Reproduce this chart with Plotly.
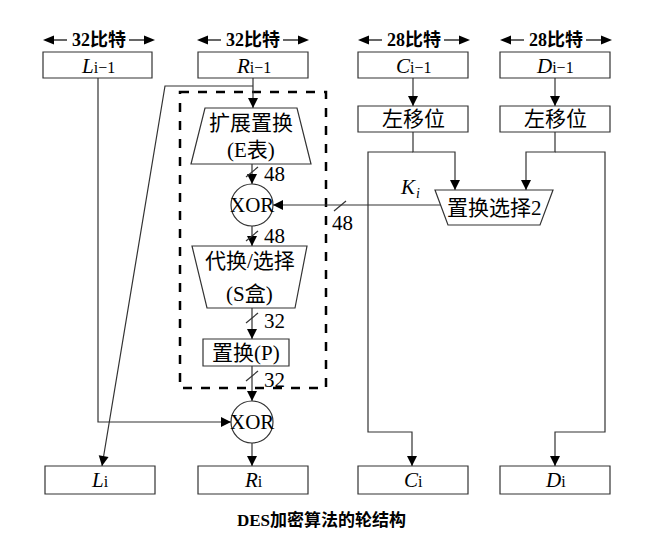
import math
import plotly.graph_objects as go

W, H = 656, 546
OFF = 8  # page body margin
FONT = "Liberation Serif, Noto Sans CJK SC"
LINE = "#333333"

# --- diagram content ---
header_text = ["32比特", "32比特", "28比特", "28比特"]
header_x = [99, 253, 414, 556]
header_half = [56, 56, 56, 56]

top_labels = ["L", "R", "C", "D"]
top_sub = "i−1"
top_boxes = [(43, 152), (198, 308), (358, 468), (500, 610)]

bottom_labels = ["L", "R", "C", "D"]
bottom_sub = "i"
bottom_boxes = [(45, 155), (198, 308), (358, 468), (500, 610)]

shift_label = "左移位"
shift_boxes = [(358, 468), (500, 610)]

# trapezoids: (top y, top x0, top x1, bottom y, bottom x0, bottom x1, text lines)
trapezoids = [
    (108, 205, 297, 164, 191, 311, ["扩展置换", "(E表)"]),
    (246, 192, 307, 308, 207, 295, ["代换/选择", "(S盒)"]),
    (190, 435, 553, 225, 448, 540, ["置换选择2"]),
]
p_box = (203, 289, 339, 366, "置换(P)")

xor_nodes = [(252, 205, 21), (252, 422, 21)]

# polylines, arrow at the last point
arrows = [
    [(413, 78), (413, 106)],
    [(555, 78), (555, 106)],
    [(413, 132), (413, 152), (455, 152), (455, 190)],
    [(413, 152), (368, 152), (368, 432), (412, 432), (412, 466)],
    [(555, 132), (555, 152), (526, 152), (526, 190)],
    [(555, 152), (605, 152), (605, 432), (555, 432), (555, 466)],
    [(253, 78), (253, 108)],
    [(253, 86), (165, 86), (102, 466)],
    [(252, 164), (252, 184)],
    [(252, 226), (252, 246)],
    [(252, 308), (252, 339)],
    [(252, 366), (252, 401)],
    [(98, 78), (98, 422), (231, 422)],
    [(252, 443), (252, 466)],
    [(441, 205), (273, 205)],
]

bus_marks = [(252, 172), (252, 236), (252, 318), (252, 376), (340, 206)]
bus_widths = ["48", "48", "32", "32", "48"]
bus_label_pos = [(274, 174), (274, 236), (274, 321), (274, 380), (342, 223)]

key_label = ("K", "i")
caption = "<b>DES加密算法的轮结构</b>"

fig = go.Figure()
shapes, annots = [], []


def text(x, y, s, size=20, **kw):
    annots.append(dict(x=x, y=y, text=s, showarrow=False,
                       font=dict(family=FONT, size=size, color="black"), **kw))


def head(tip, frm, length=10, half=5):
    dx, dy = tip[0] - frm[0], tip[1] - frm[1]
    n = math.hypot(dx, dy)
    ux, uy = dx / n, dy / n
    bx, by = tip[0] - ux * length, tip[1] - uy * length
    px, py = -uy * half, ux * half
    shapes.append(dict(type="path", line=dict(width=0), fillcolor="black",
                       path=f"M{tip[0]},{tip[1]} L{bx + px},{by + py} L{bx - px},{by - py} Z"))


def rect(x0, x1, y0, y1):
    shapes.append(dict(type="rect", x0=x0, x1=x1, y0=y0, y1=y1,
                       line=dict(color=LINE, width=1.2), fillcolor="white"))


def var_label(v, sub):
    return f"<i>{v}</i><span style='font-size:16px'>{sub}</span>"


# dashed round-function box
shapes.append(dict(type="rect", x0=180, x1=326, y0=92, y1=388,
                   line=dict(color="black", width=2.5, dash="dash")))

# connecting lines
for pts in arrows:
    path = "M" + " L".join(f"{x},{y}" for x, y in pts)
    shapes.append(dict(type="path", path=path, line=dict(color=LINE, width=1.2)))
    head(pts[-1], pts[-2])

# headers with double arrows
for cx, hw, s in zip(header_x, header_half, header_text):
    y = 40
    shapes.append(dict(type="line", x0=cx - hw + 8, x1=cx - 32, y0=y, y1=y, line=dict(color="black", width=1.2)))
    shapes.append(dict(type="line", x0=cx + 30, x1=cx + hw - 8, y0=y, y1=y, line=dict(color="black", width=1.2)))
    head((cx - hw, y), (cx, y), 11, 4.5)
    head((cx + hw, y), (cx, y), 11, 4.5)
    text(cx, y, f"<b>{s}</b>", size=18)

for (x0, x1), s in zip(top_boxes, top_labels):
    rect(x0, x1, 52, 78)
    text((x0 + x1) / 2, 66, var_label(s, top_sub), size=21)

for (x0, x1), s in zip(bottom_boxes, bottom_labels):
    rect(x0, x1, 466, 494)
    text((x0 + x1) / 2, 480, var_label(s, bottom_sub), size=21)

for x0, x1 in shift_boxes:
    rect(x0, x1, 106, 132)
    text((x0 + x1) / 2, 119, shift_label, size=21)

for ty, tx0, tx1, by, bx0, bx1, lines in trapezoids:
    shapes.append(dict(type="path", path=f"M{tx0},{ty} L{tx1},{ty} L{bx1},{by} L{bx0},{by} Z",
                       line=dict(color=LINE, width=1.2), fillcolor="white"))
    if len(lines) == 1:
        text((tx0 + tx1) / 2, (ty + by) / 2, lines[0], size=21)
    else:
        text((tx0 + tx1) / 2, ty + 15, lines[0], size=21)
        text((tx0 + tx1) / 2, by - 14, lines[1], size=21)

x0, x1, y0, y1, s = p_box
rect(x0, x1, y0, y1)
text((x0 + x1) / 2, (y0 + y1) / 2, s, size=21)

for cx, cy, r in xor_nodes:
    shapes.append(dict(type="circle", x0=cx - r, x1=cx + r, y0=cy - r, y1=cy + r,
                       line=dict(color=LINE, width=1.2), fillcolor="white"))
    text(cx, cy, "XOR", size=21)

for (cx, cy), s, (lx, ly) in zip(bus_marks, bus_widths, bus_label_pos):
    shapes.append(dict(type="line", x0=cx - 6, y0=cy + 5, x1=cx + 6, y1=cy - 5,
                       line=dict(color=LINE, width=1.2)))
    text(lx, ly, s, size=21)

text(408, 187, f"<i>{key_label[0]}</i>", size=21)
text(418, 193, f"<i>{key_label[1]}</i>", size=14)
text(321, 520, caption, size=17)

fig.update_layout(
    width=W, height=H, autosize=False,
    margin=dict(l=0, r=0, t=0, b=0),
    paper_bgcolor="white", plot_bgcolor="white",
    xaxis=dict(range=[OFF, W + OFF], visible=False, fixedrange=True),
    yaxis=dict(range=[H + OFF, OFF], visible=False, fixedrange=True),
    shapes=shapes, annotations=annots, showlegend=False,
)
fig.write_html("out.html")
